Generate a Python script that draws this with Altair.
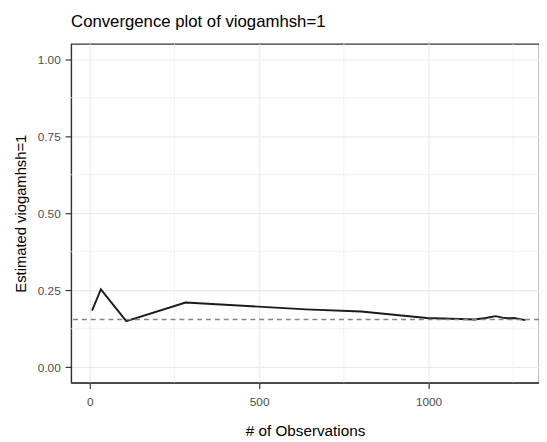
import altair as alt
import pandas as pd

# Data
obs = [7, 33, 108, 283, 637, 801, 995, 1136, 1169, 1198, 1218, 1233, 1252, 1286]
est = [0.184, 0.253, 0.150, 0.210, 0.188, 0.181, 0.160, 0.155, 0.160, 0.166, 0.161, 0.159, 0.160, 0.153]
ref_value = [0.155]
x_major = [0, 500, 1000]
x_minor = [250, 750, 1250]
y_major = [0, 0.25, 0.5, 0.75, 1.0]
y_minor = [0.125, 0.375, 0.625, 0.875]

FONT = "Liberation Sans, Arial, sans-serif"

df = pd.DataFrame({"obs": obs, "est": est})
ref = pd.DataFrame({"v": ref_value})
xm = pd.DataFrame({"x": x_minor})
ym = pd.DataFrame({"y": y_minor})

xscale = alt.Scale(domain=[-55, 1326], nice=False, zero=False)
yscale = alt.Scale(domain=[-0.05, 1.05], nice=False, zero=False)

xminor = alt.Chart(xm).mark_rule(color="#efefef", strokeWidth=0.8).encode(
    x=alt.X("x:Q", scale=xscale)
)
yminor = alt.Chart(ym).mark_rule(color="#efefef", strokeWidth=0.8).encode(
    y=alt.Y("y:Q", scale=yscale)
)

line = alt.Chart(df).mark_line(color="#1a1a1a", strokeWidth=1.9).encode(
    x=alt.X("obs:Q", scale=xscale,
            axis=alt.Axis(values=x_major, title="# of Observations",
                          format="d", gridColor="#ebebeb", gridWidth=1.2,
                          labelPadding=8, titlePadding=17,
                          titleFontSize=15.5)),
    y=alt.Y("est:Q", scale=yscale,
            axis=alt.Axis(values=y_major, format=".2f",
                          title="Estimated viogamhsh=1",
                          gridColor="#ebebeb", gridWidth=1.2,
                          labelPadding=5, titlePadding=9,
                          titleFontSize=15)),
)

hline = alt.Chart(ref).mark_rule(color="#858585", strokeWidth=1.4, strokeDash=[5, 4]).encode(
    y=alt.Y("v:Q", scale=yscale)
)

chart = (
    alt.layer(xminor, yminor, line, hline)
    .properties(
        width=475,
        height=344,
        background="white",
        title=alt.TitleParams("Convergence plot of viogamhsh=1", anchor="start",
                              frame="group", offset=13, fontSize=17,
                              fontWeight="normal", color="#000000", font=FONT),
        autosize=alt.AutoSizeParams(type="none"),
        padding={"left": 64, "top": 33, "right": 0, "bottom": 62},
    )
    .configure_view(stroke="#333333", strokeWidth=1.2)
    .configure_axis(
        domainColor="#333333",
        domainWidth=1.2,
        tickColor="#333333",
        tickSize=6,
        tickWidth=1.2,
        labelColor="#4d4d4d",
        labelFontSize=12,
        labelFont=FONT,
        titleFont=FONT,
        titleFontWeight="normal",
        titleColor="#000000",
    )
)

chart.save("out.html", embed_options={"renderer": "svg", "actions": False})
